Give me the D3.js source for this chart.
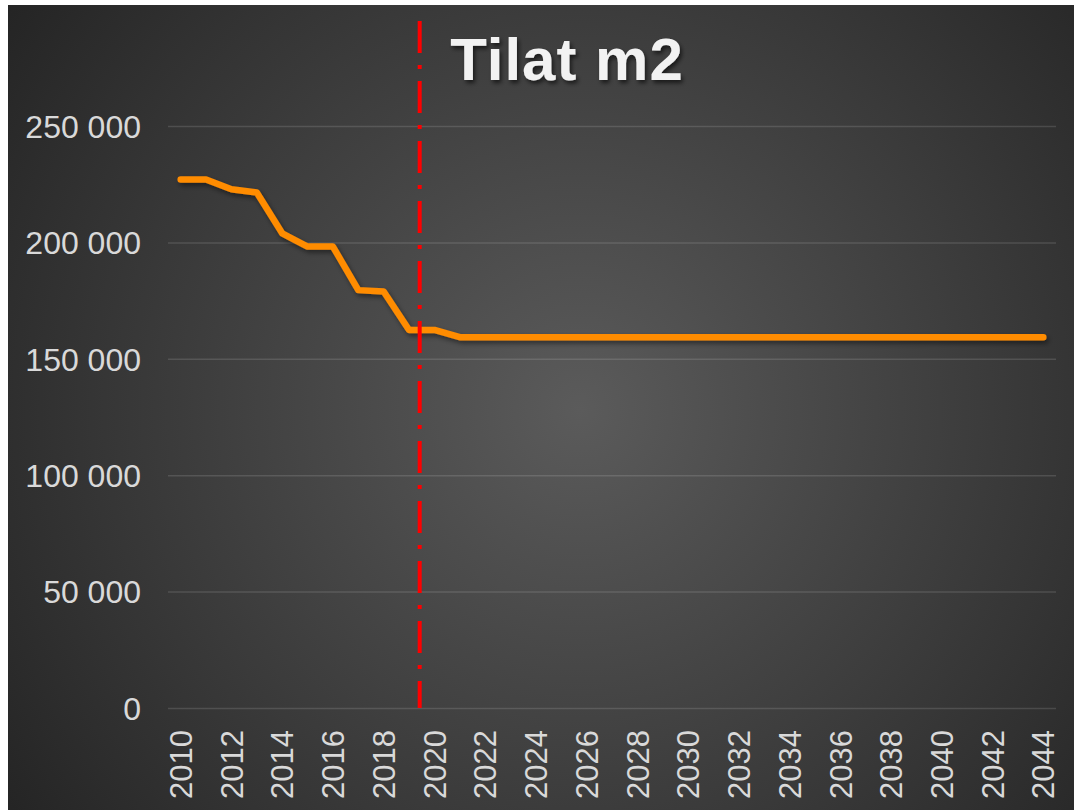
<!DOCTYPE html>
<html><head><meta charset="utf-8">
<script src="https://cdn.jsdelivr.net/npm/d3@7"></script>
<style>html,body{margin:0;padding:0;background:#fff;}svg{display:block;}</style>
</head><body>
<script>
const years = d3.range(2010, 2045).map(String);
const tilat = [227000, 227000, 222800, 221400, 203900, 198200, 198200, 179500, 178900, 162400, 162400,
  159300, 159300, 159300, 159300, 159300, 159300, 159300, 159300, 159300, 159300, 159300, 159300,
  159300, 159300, 159300, 159300, 159300, 159300, 159300, 159300, 159300, 159300, 159300, 159300];
const yTicks = [0, 50000, 100000, 150000, 200000, 250000];
const tickYears = years.filter((d, i) => i % 2 === 0);
const markerYearIndex = 9.42; // between 2019 and 2020
const title = "Tilat m2";

(function () {
const W = 1074, H = 810;
const svg = d3.select("body").append("svg").attr("width", W).attr("height", H);
const defs = svg.append("defs");
const rg = defs.append("radialGradient").attr("id", "bg").attr("gradientUnits", "userSpaceOnUse")
  .attr("cx", 580).attr("cy", 410).attr("r", 720);
rg.append("stop").attr("offset", "0%").attr("stop-color", "#5b5b5b");
rg.append("stop").attr("offset", "100%").attr("stop-color", "#232323");
const sh = defs.append("filter").attr("id", "sh").attr("x", "-10%").attr("y", "-10%").attr("width", "120%").attr("height", "130%");
sh.append("feDropShadow").attr("dx", 2).attr("dy", 3).attr("stdDeviation", 2.5).attr("flood-color", "#000").attr("flood-opacity", 0.45);
const tsh = defs.append("filter").attr("id", "tsh").attr("x", "-10%").attr("y", "-20%").attr("width", "120%").attr("height", "150%");
tsh.append("feDropShadow").attr("dx", 2).attr("dy", 3).attr("stdDeviation", 2).attr("flood-color", "#000").attr("flood-opacity", 0.6);

svg.append("rect").attr("x", 8).attr("y", 5).attr("width", W - 8).attr("height", H - 5).attr("fill", "url(#bg)");

const pL = 168, pR = 1056, pT = 126, pB = 708;
const x = d3.scaleBand().domain(years).range([pL, pR]).paddingInner(0).paddingOuter(0);
const y = d3.scaleLinear().domain([0, 250000]).range([pB, pT]);

const yAxis = d3.axisLeft(y).tickValues(yTicks).tickSize(-(pR - pL)).tickPadding(12)
  .tickFormat(d => d3.format(",")(d).replace(/,/g, " "));
const gy = svg.append("g").attr("transform", `translate(${pL},0)`).call(yAxis);
gy.select(".domain").remove();
gy.selectAll(".tick line").attr("stroke", "#ffffff").attr("stroke-opacity", 0.13).attr("stroke-width", 1.5);
gy.selectAll(".tick text").attr("fill", "#d9d9d9").attr("font-family", "Liberation Sans, Arial, sans-serif")
  .attr("font-size", 32).attr("x", -27).attr("dy", "0.35em");

const xAxis = d3.axisBottom(x).tickValues(tickYears).tickSize(0);
const gx = svg.append("g").attr("transform", `translate(0,${pB})`).call(xAxis);
gx.select(".domain").remove();
gx.selectAll(".tick text").attr("fill", "#d9d9d9").attr("font-family", "Liberation Sans, Arial, sans-serif")
  .attr("font-size", 31).attr("text-anchor", "end")
  .attr("transform", "rotate(-90)").attr("x", -22).attr("y", 0).attr("dy", "0.36em");

const line = d3.line().x((d, i) => x(years[i]) + x.bandwidth() / 2).y(d => y(d)).curve(d3.curveLinear);
svg.append("path").datum(tilat).attr("d", line).attr("fill", "none").attr("stroke", "#ff8c00")
  .attr("stroke-width", 6.5).attr("stroke-linejoin", "round").attr("stroke-linecap", "round").attr("filter", "url(#sh)");

const mx = pL + x.step() * (markerYearIndex + 0.5);
svg.append("line").attr("x1", mx).attr("x2", mx).attr("y1", 21).attr("y2", pB)
  .attr("stroke", "#ff0000").attr("stroke-width", 4).attr("stroke-dasharray", "32 12 4 12");

svg.append("text").attr("x", 567).attr("y", 80).attr("text-anchor", "middle")
  .attr("font-family", "Liberation Sans, Arial, sans-serif").attr("font-weight", "bold").attr("font-size", 60)
  .attr("fill", "#f2f2f2").attr("letter-spacing", 1).attr("filter", "url(#tsh)").text(title);
})();
</script>
</body></html>
